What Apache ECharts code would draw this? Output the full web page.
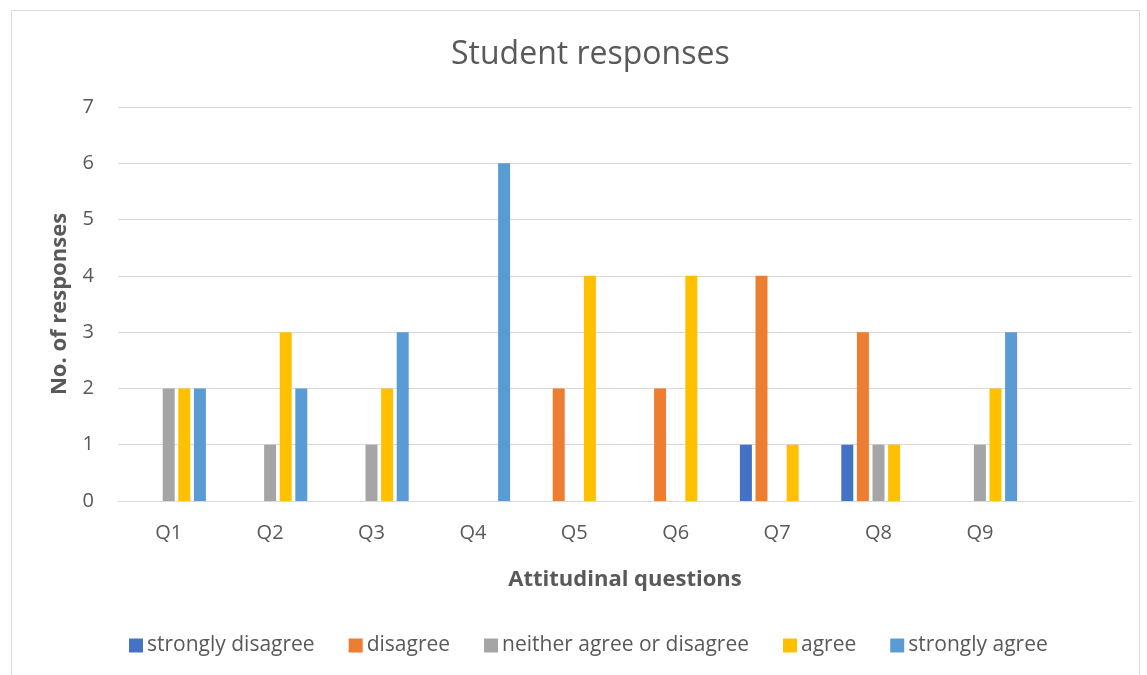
<!DOCTYPE html>
<html>
<head>
<meta charset="utf-8">
<script src="https://cdn.jsdelivr.net/npm/echarts@6/dist/echarts.min.js"></script>
<style>
html,body{margin:0;padding:0;background:#fff;}
#chart{width:1147px;height:675px;}
</style>
</head>
<body>
<div id="chart"></div>
<script>
const categories = ['Q1','Q2','Q3','Q4','Q5','Q6','Q7','Q8','Q9',''];
const stronglyDisagree = [0,0,0,0,0,0,1,1,0,0];
const disagree         = [0,0,0,0,2,2,4,3,0,0];
const neither          = [2,1,1,0,0,0,0,1,1,0];
const agree            = [2,3,2,0,4,4,1,1,2,0];
const stronglyAgree    = [2,2,3,6,0,0,0,0,3,0];
const yTicks = [0,1,2,3,4,5,6,7];

const seriesNames = ['strongly disagree','disagree','neither agree or disagree','agree','strongly agree'];
const seriesData = [stronglyDisagree, disagree, neither, agree, stronglyAgree];
const colors = ['#4472C4','#ED7D31','#A5A5A5','#FFC000','#5B9BD5'];
const font = '"Open Sans", sans-serif';
const textColor = '#595959';

const chart = echarts.init(document.getElementById('chart'));
chart.setOption({
  animation: false,
  backgroundColor: '#fff',
  color: colors,
  graphic: [{
    type: 'rect', left: 9, top: 8,
    shape: { width: 1128, height: 700 },
    style: { fill: 'none', stroke: '#d9d9d9', lineWidth: 1 }
  }],
  title: {
    text: 'Student responses',
    left: 446, top: 34,
    textStyle: { fontFamily: font, fontSize: 32, fontWeight: 'normal', color: textColor }
  },
  grid: { left: 118, right: 15, top: 107, bottom: 174, containLabel: false },
  legend: {
    bottom: 14, left: 124,
    itemWidth: 14, itemHeight: 14, itemGap: 34,
    icon: 'rect',
    textStyle: { fontFamily: font, fontSize: 21, color: textColor, padding: [0,0,0,-1] },
    data: seriesNames
  },
  xAxis: {
    type: 'category',
    data: categories,
    name: 'Attitudinal questions',
    nameLocation: 'middle',
    nameGap: 68,
    nameTextStyle: { fontFamily: font, fontSize: 22, fontWeight: 'bold', color: textColor },
    axisLine: { lineStyle: { color: '#d9d9d9' } },
    axisTick: { show: false },
    axisLabel: { fontFamily: font, fontSize: 20, color: textColor, margin: 22 }
  },
  yAxis: {
    type: 'value',
    min: 0, max: 7, interval: 1,
    name: 'No. of responses',
    nameLocation: 'middle',
    nameGap: 47,
    nameTextStyle: { fontFamily: font, fontSize: 22, fontWeight: 'bold', color: textColor },
    axisLine: { show: false },
    axisTick: { show: false },
    splitLine: { lineStyle: { color: '#d9d9d9', width: 1 } },
    axisLabel: { fontFamily: font, fontSize: 20, color: textColor, margin: 24,
      formatter: v => yTicks.includes(v) ? String(v) : '' }
  },
  series: seriesNames.map((n, i) => ({
    name: n, type: 'bar', data: seriesData[i],
    barWidth: 12, barGap: '30%',
    itemStyle: { color: colors[i] }
  }))
});
</script>
</body>
</html>
